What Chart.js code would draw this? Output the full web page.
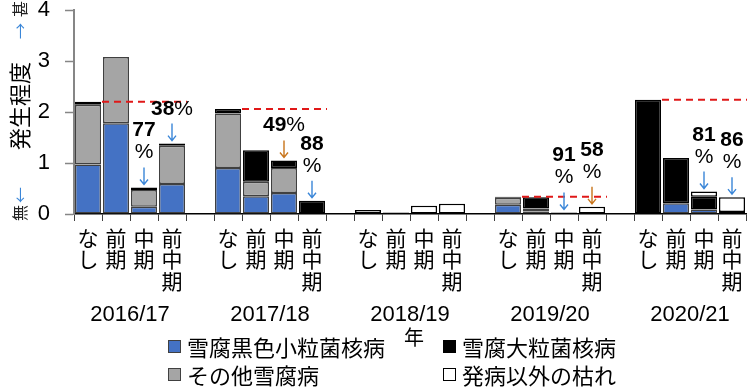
<!DOCTYPE html>
<html>
<head>
<meta charset="utf-8">
<script src="https://cdn.jsdelivr.net/npm/chart.js@4/dist/chart.umd.min.js"></script>
<style>
  html, body { margin: 0; padding: 0; background: #fff; }
  #wrap { position: relative; width: 755px; height: 387px; }
  #wrap canvas { position: absolute; left: 0; top: 0; }
  .leg { position: absolute; display: flex; align-items: center; height: 22px;
         font: 22px 'Liberation Sans', 'Noto Sans CJK JP', sans-serif; color: #000; white-space: nowrap; }
  .leg i { display: inline-block; width: 11px; height: 11px; border: 1.5px solid #404040; margin-right: 6px; }
</style>
</head>
<body>
<div id="wrap">
  <canvas id="chart" width="755" height="387"></canvas>
  <div id="legend"></div>
</div>
<script>
// ── Data ──────────────────────────────────────────────────────────────────────

const seasons = ["2016/17", "2017/18", "2018/19", "2019/20", "2020/21"];
const timings = [["な", "し"], ["前", "期"], ["中", "期"], ["前", "中", "期"]];

// 4 bars per season: なし, 前期, 中期, 前中期
const kokushoku = [0.97, 1.78, 0.14, 0.59,  0.90, 0.35, 0.41, 0,     0, 0, 0, 0,           0.18, 0.05, 0, 0,     0, 0.21, 0.09, 0];
const sonota    = [1.17, 1.30, 0.33, 0.75,  1.07, 0.28, 0.49, 0,     0, 0, 0, 0,           0.14, 0.06, 0, 0,     0, 0, 0, 0];
const dairyu    = [0.06, 0, 0.05, 0.04,     0.09, 0.62, 0.15, 0.26,  0, 0, 0, 0,           0.02, 0.22, 0.03, 0,  2.24, 0.89, 0.25, 0.04];
const kare      = [0, 0, 0, 0,              0, 0, 0, 0,              0.08, 0.03, 0.16, 0.20, 0, 0, 0, 0.14,     0, 0, 0.10, 0.29];

const seriesNames = ["雪腐黒色小粒菌核病", "雪腐大粒菌核病", "その他雪腐病", "発病以外の枯れ"];

// severity of the untreated (なし) plot, drawn as a dashed reference
const noneLevel = [2.20, 2.06, null, 0.34, 2.24];

// control-value notes: bar index (0..19), number, split onto two lines
const notes = [
  { bar: 2,  num: "77", split: true },
  { bar: 3,  num: "38", split: false },
  { bar: 6,  num: "49", split: false },
  { bar: 7,  num: "88", split: true },
  { bar: 14, num: "91", split: true },
  { bar: 15, num: "58", split: true },
  { bar: 18, num: "81", split: true },
  { bar: 19, num: "86", split: true },
];
const orangeNotes = [6, 15];

// ── Styles ────────────────────────────────────────────────────────────────────

const FONT = "'Liberation Sans', 'Noto Sans CJK JP', sans-serif";
const JP   = "'Noto Sans CJK JP', sans-serif";
const BLUE = "#4472C4", GRAY = "#A5A5A5", BLACK = "#000000", WHITE = "#FFFFFF";
const EDGE = "#404040";
const ARROW_BLUE = "#3a86d8", ARROW_ORANGE = "#c8741a";
const RED = "#e01818";

// ── Build category axis (gap slot between seasons) ───────────────────────────

const labels = [];
const slotOf = [];  // bar index -> category index
seasons.forEach((s, si) => {
  timings.forEach(t => { slotOf.push(labels.length); labels.push(t); });
  if (si < seasons.length - 1) labels.push("");
});

function expand(arr) {
  const out = labels.map(() => null);
  arr.forEach((v, i) => { out[slotOf[i]] = v ? v : null; });
  return out;
}

function barSet(label, data, color, border, bw) {
  return {
    label, data: expand(data),
    backgroundColor: color, borderColor: border, borderWidth: bw,
    borderSkipped: false, barPercentage: 0.93, categoryPercentage: 1.0,
  };
}

// ── Drawing plugin: dashed refs, notes, season labels, axis titles ───────────

const extras = {
  id: "extras",
  afterDatasetsDraw(chart) {
    const { ctx, chartArea: ca, scales: { x, y } } = chart;
    const step = x.getPixelForValue(1) - x.getPixelForValue(0);

    // dashed reference lines
    ctx.save();
    ctx.strokeStyle = RED;
    ctx.lineWidth = 2;
    ctx.setLineDash([7, 5]);
    noneLevel.forEach((v, si) => {
      if (v == null) return;
      const first = slotOf[si * 4];
      const x0 = x.getPixelForValue(first) + step / 2;
      const x1 = x.getPixelForValue(first + 3) + step / 2 + 1;
      const py = y.getPixelForValue(v);
      ctx.beginPath(); ctx.moveTo(x0, py); ctx.lineTo(x1, py); ctx.stroke();
    });
    ctx.restore();

    // percentage notes with arrows
    ctx.save();
    ctx.textAlign = "left";
    ctx.textBaseline = "alphabetic";
    const numFont = `bold 21px ${FONT}`, pctFont = `21px ${FONT}`;
    notes.forEach(n => {
      const total = kokushoku[n.bar] + sonota[n.bar] + dairyu[n.bar] + kare[n.bar];
      const cx = x.getPixelForValue(slotOf[n.bar]);
      const top = y.getPixelForValue(total);
      const aBot = top - 3, aTop = aBot - 17;

      // arrow
      ctx.strokeStyle = orangeNotes.includes(n.bar) ? ARROW_ORANGE : ARROW_BLUE;
      ctx.lineWidth = 1.4;
      ctx.beginPath();
      ctx.moveTo(cx, aTop); ctx.lineTo(cx, aBot);
      ctx.moveTo(cx - 4, aBot - 5); ctx.lineTo(cx, aBot); ctx.lineTo(cx + 4, aBot - 5);
      ctx.stroke();

      ctx.fillStyle = "#000";
      const base = aTop - 9;
      if (n.split) {
        ctx.font = pctFont;
        let w = ctx.measureText("%").width;
        ctx.fillText("%", cx - w / 2, base);
        ctx.font = numFont;
        w = ctx.measureText(n.num).width;
        ctx.fillText(n.num, cx - w / 2, base - 22);
      } else {
        ctx.font = numFont;
        const w1 = ctx.measureText(n.num).width;
        ctx.font = pctFont;
        const w2 = ctx.measureText("%").width;
        const sx = cx - (w1 + w2) / 2;
        ctx.font = numFont; ctx.fillText(n.num, sx, base);
        ctx.font = pctFont; ctx.fillText("%", sx + w1, base);
      }
    });
    ctx.restore();

    // season labels under category ticks
    ctx.save();
    ctx.fillStyle = "#000";
    ctx.font = `22px ${FONT}`;
    ctx.textAlign = "center";
    ctx.textBaseline = "middle";
    seasons.forEach((s, si) => {
      const first = slotOf[si * 4];
      const cx = (x.getPixelForValue(first + 1) + x.getPixelForValue(first + 2)) / 2;
      ctx.fillText(s, cx, ca.bottom + 101);
    });
    // x title
    ctx.font = `20px ${JP}`;
    ctx.fillText("年", (ca.left + ca.right) / 2 + 4, ca.bottom + 123);
    ctx.restore();

    // y title: 無← 発生程度 →甚 (rotated)
    ctx.save();
    ctx.translate(20, 0);
    ctx.rotate(-Math.PI / 2);
    ctx.textAlign = "center";
    ctx.textBaseline = "middle";
    const at = (txt, screenY, font, color) => {
      ctx.font = font; ctx.fillStyle = color; ctx.fillText(txt, -screenY, 0);
    };
    at("発生程度", (ca.top + ca.bottom) / 2 - 6, `22px ${JP}`, "#000");
    at("無", ca.bottom - 1, `16px ${JP}`, "#222");
    at("←", ca.bottom - 19, `16px ${JP}`, ARROW_BLUE);
    at("→", ca.top + 21, `16px ${JP}`, ARROW_BLUE);
    at("甚", Math.max(ca.top - 1, 9), `16px ${JP}`, "#222");
    ctx.restore();
  },
};

// ── Chart ─────────────────────────────────────────────────────────────────────

new Chart(document.getElementById("chart"), {
  type: "bar",
  data: {
    labels,
    datasets: [
      barSet(seriesNames[0], kokushoku, BLUE, EDGE, 1.5),
      barSet(seriesNames[2], sonota, GRAY, EDGE, 1.5),
      barSet(seriesNames[1], dairyu, BLACK, BLACK, 1.5),
      barSet(seriesNames[3], kare, WHITE, BLACK, 1.5),
    ],
  },
  options: {
    responsive: false,
    animation: false,
    layout: { padding: { top: 10, right: 9, left: 0, bottom: 0 } },
    plugins: { legend: { display: false }, tooltip: { enabled: false } },
    scales: {
      x: {
        stacked: true,
        ticks: { font: { family: JP, size: 21, lineHeight: 1.03 }, color: "#000", padding: 6, autoSkip: false, maxRotation: 0 },
        grid: { drawOnChartArea: false, color: "#404040", tickLength: 7, offset: true },
        border: { color: "#000", width: 1.5 },
        afterFit: s => { s.height = 173; },
      },
      y: {
        stacked: true, min: 0, max: 4,
        ticks: { stepSize: 1, font: { family: FONT, size: 22, lineHeight: 1 }, color: "#000", padding: 15 },
        grid: { drawOnChartArea: false, color: "#868686", tickLength: 9, tickWidth: 1.5 },
        border: { color: "#868686", width: 2 },
        afterFit: s => { s.width = 74; s.paddingTop = 0; s.paddingBottom = 0; },
      },
    },
  },
  plugins: [extras],
});

// ── HTML legend (2 x 2 grid) ─────────────────────────────────────────────────

const legendItems = [
  { name: seriesNames[0], fill: BLUE,  edge: EDGE,  left: 168, top: 335 },
  { name: seriesNames[1], fill: BLACK, edge: BLACK, left: 443, top: 335 },
  { name: seriesNames[2], fill: GRAY,  edge: EDGE,  left: 168, top: 363 },
  { name: seriesNames[3], fill: WHITE, edge: BLACK, left: 443, top: 363 },
];
document.getElementById("legend").innerHTML = legendItems.map(it =>
  `<div class="leg" style="left:${it.left}px;top:${it.top}px"><i style="background:${it.fill};border-color:${it.edge}"></i>${it.name}</div>`
).join("");
</script>
</body>
</html>
